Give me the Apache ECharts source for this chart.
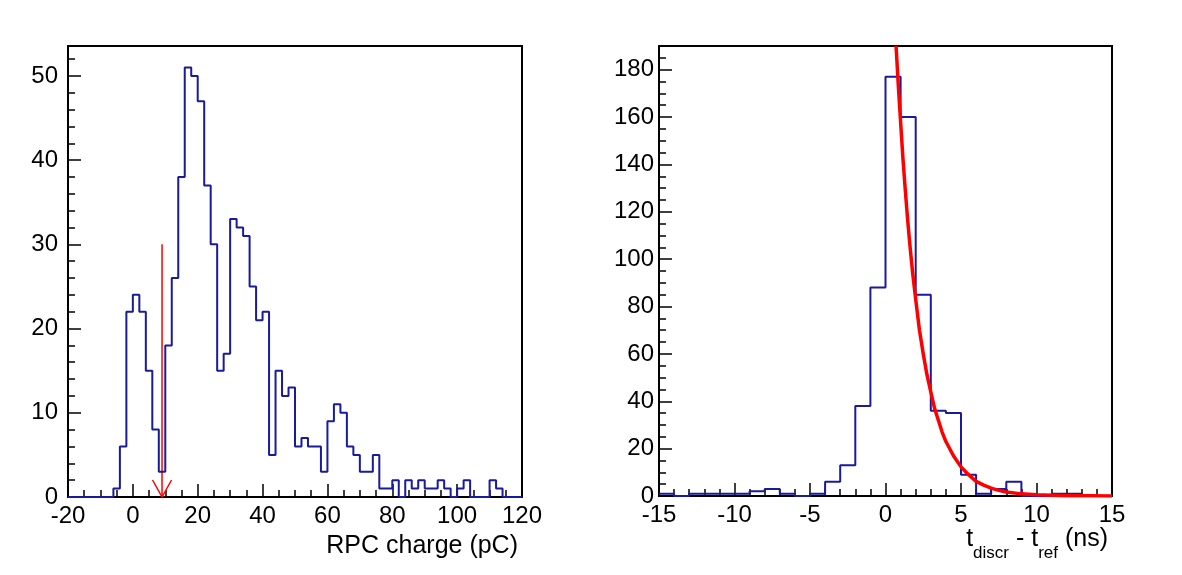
<!DOCTYPE html>
<html>
<head>
<meta charset="utf-8">
<script src="https://cdn.jsdelivr.net/npm/echarts@6/dist/echarts.min.js"></script>
<style>
  html, body { margin: 0; padding: 0; background: #fff; }
  #chart { width: 1182px; height: 575px; }
</style>
</head>
<body>
<div id="chart"></div>
<script>
// left histogram: RPC charge, 2 pC bins from -20 to 120
const chargeBinLow = -20;
const chargeBinWidth = 2;
const chargeCounts = [
  0, 0, 0, 0, 0, 0, 0, 1, 6, 22,      // -20 .. 0
  24, 22, 15, 8, 3, 18, 26, 38, 51, 50, // 0 .. 20
  47, 37, 30, 15, 17, 33, 32, 31, 25, 21, // 20 .. 40
  22, 5, 15, 12, 13, 6, 7, 6, 6, 3,     // 40 .. 60
  9, 11, 10, 6, 5, 3, 3, 5, 1, 1,       // 60 .. 80
  2, 0, 2, 1, 2, 1, 1, 2, 1, 0,         // 80 .. 100
  1, 2, 0, 0, 0, 2, 1, 0, 0, 0          // 100 .. 120
];
// threshold arrow
const thresholdCharge = 9;
const arrowTop = 30;

// right histogram: time difference, 1 ns bins from -15 to 15
const timeBinLow = -15;
const timeBinWidth = 1;
const timeCounts = [
  1, 0, 1, 1, 1, 1, 2, 3, 1, 0,    // -15 .. -5
  1, 6, 13, 38, 88, 177, 160, 85, 36, 35, // -5 .. 5
  9, 1, 3, 6, 0, 0, 1, 1, 0, 0     // 5 .. 15
];
// exponential fit, points
const fitT = [0.7, 0.85, 1.0, 1.15, 1.3, 1.45, 1.6, 1.8, 2.0, 2.25, 2.5, 2.75, 3.0, 3.25, 3.5, 3.75, 4.0, 4.5, 5.0, 5.5, 6.0, 6.5, 7.0, 7.5, 8.0, 9.0, 10.0, 11.0, 12.0, 13.5, 15.0];
const fitY = [190, 173, 158, 143, 130, 118, 107, 94, 83, 70, 60, 51, 44, 37, 32, 27, 23, 17, 12.3, 9, 6.2, 4.6, 3.3, 2.4, 1.7, 0.9, 0.5, 0.3, 0.15, 0.06, 0.02];

const font = 'Liberation Sans, Arial, Helvetica, sans-serif';
const histColor = '#1a1a9c';

// turn bin counts into step points (left edges + closing edge)
function stepData(low, width, counts) {
  const pts = counts.map((c, i) => [low + i * width, c]);
  pts.push([low + counts.length * width, counts[counts.length - 1]]);
  return pts;
}

function xAxisOpt(idx, min, max, interval, minorSplit) {
  return {
    type: 'value', gridIndex: idx, min: min, max: max, interval: interval,
    axisLine: { show: true, onZero: false, lineStyle: { color: '#000', width: 2 } },
    axisTick: { show: true, inside: true, length: 13, lineStyle: { color: '#000', width: 1.5 } },
    minorTick: { show: true, splitNumber: minorSplit, length: 7, lineStyle: { color: '#000', width: 1.5 } },
    splitLine: { show: false },
    axisLabel: { color: '#000', fontSize: 24, fontFamily: font, margin: 7 }
  };
}

function yAxisOpt(idx, max, interval, minorSplit, margin) {
  return {
    type: 'value', gridIndex: idx, min: 0, max: max, interval: interval,
    axisLine: { show: true, onZero: false, lineStyle: { color: '#000', width: 2 } },
    axisTick: { show: true, inside: true, length: 13, lineStyle: { color: '#000', width: 1.5 } },
    minorTick: { show: true, splitNumber: minorSplit, length: 7, lineStyle: { color: '#000', width: 1.5 } },
    splitLine: { show: false },
    axisLabel: { color: '#000', fontSize: 24, fontFamily: font, margin: margin, showMaxLabel: false }
  };
}

const chart = echarts.init(document.getElementById('chart'));

const option = {
  animation: false,
  backgroundColor: '#fff',
  title: [
    {
      text: 'RPC charge (pC)',
      right: 1182 - 523, top: 529,
      textStyle: { color: '#000', fontSize: 25, fontWeight: 'normal', fontFamily: font, lineHeight: 25 }
    },
    {
      text: '{m|t}{s|discr}{m| - t}{s|ref}{m| (ns)}',
      right: 1182 - 1113, top: 522,
      textStyle: {
        fontWeight: 'normal',
        rich: {
          m: { color: '#000', fontSize: 25, fontWeight: 'normal', fontFamily: font, lineHeight: 25 },
          s: { color: '#000', fontSize: 17, fontWeight: 'normal', fontFamily: font, lineHeight: 17, padding: [28, 0, 0, 0] }
        }
      }
    }
  ],
  grid: [
    { left: 68, top: 46, width: 454, height: 451, show: true, borderColor: '#000', borderWidth: 2 },
    { left: 659, top: 46, width: 453, height: 450, show: true, borderColor: '#000', borderWidth: 2 }
  ],
  xAxis: [
    xAxisOpt(0, -20, 120, 20, 4),
    xAxisOpt(1, -15, 15, 5, 5)
  ],
  yAxis: [
    yAxisOpt(0, 53.55, 10, 5, 10),
    yAxisOpt(1, 190, 20, 4, 5)
  ],
  series: [
    {
      type: 'line', xAxisIndex: 0, yAxisIndex: 0, step: 'end', symbol: 'none',
      data: stepData(chargeBinLow, chargeBinWidth, chargeCounts),
      lineStyle: { color: histColor, width: 2 }
    },
    {
      type: 'custom', xAxisIndex: 0, yAxisIndex: 0,
      data: [[thresholdCharge, arrowTop, 0]],
      renderItem: function (params, api) {
        const top = api.coord([api.value(0), api.value(1)]);
        const bot = api.coord([api.value(0), api.value(2)]);
        const style = { stroke: '#ff0000', lineWidth: 1.5, fill: null };
        return {
          type: 'group',
          children: [
            { type: 'line', shape: { x1: top[0], y1: top[1], x2: bot[0], y2: bot[1] }, style: style },
            { type: 'polyline', shape: { points: [[bot[0] - 9.5, bot[1] - 17], bot, [bot[0] + 9.5, bot[1] - 17]] }, style: style }
          ]
        };
      }
    },
    {
      type: 'line', xAxisIndex: 1, yAxisIndex: 1, step: 'end', symbol: 'none',
      data: stepData(timeBinLow, timeBinWidth, timeCounts),
      lineStyle: { color: histColor, width: 2 }
    },
    {
      type: 'line', xAxisIndex: 1, yAxisIndex: 1, symbol: 'none', smooth: false,
      data: fitT.map((t, i) => [t, fitY[i]]),
      lineStyle: { color: '#ff0000', width: 3.5, join: 'round' }, z: 5
    }
  ]
};

chart.setOption(option);
</script>
</body>
</html>
